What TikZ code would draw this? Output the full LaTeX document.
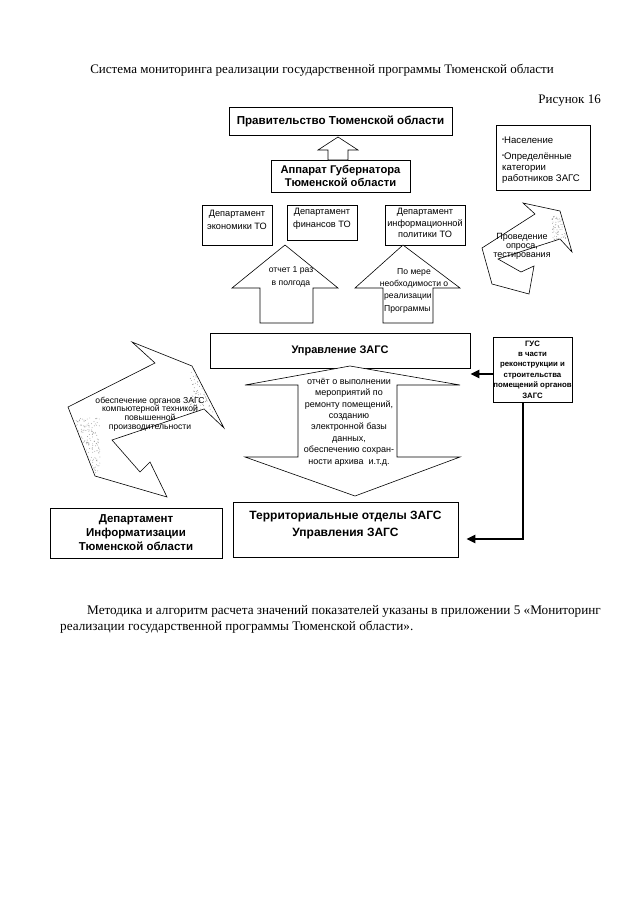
\documentclass[tikz,border=0pt]{standalone}
\usepackage{fontspec}
\setmainfont{Liberation Serif}
\newfontfamily\arial{Liberation Sans}
\usetikzlibrary{arrows.meta}
\newcommand\fz[2]{\fontsize{#1}{#2}\selectfont}
\begin{document}
\begin{tikzpicture}[x=1pt,y=-1pt,
  box/.style={draw, line width=0.8pt, inner sep=0pt},
  shp/.style={draw, line width=0.6pt, fill=white, line join=miter},
  bigarrow/.style={line width=2.2pt, -{Triangle[length=9pt,width=8pt]}},
  tb/.style={align=center, inner sep=0pt},
  serif/.style={inner sep=0pt},
  dotc/.style={fill=black!40}
]
\useasboundingbox (0,0) rectangle (640,905);
\fill[white] (0,0) rectangle (640,905);
\pgfmathsetseed{7}

% texts on the page
\node[serif, font=\fz{13}{16}] (title) at (322,70) {Система мониторинга реализации государственной программы Тюменской области};
\node[serif, font=\fz{13}{16}, anchor=east] (fig) at (601,101) {Рисунок 16};

% boxes
\node[box, minimum width=223pt, minimum height=28pt] (gov) at (340.5,121) {};
\node[tb, font=\arial\bfseries\fz{11.6}{14}] (govt) at (gov) {Правительство Тюменской области};
\node[box, minimum width=139pt, minimum height=32pt] (app) at (340.5,176) {};
\node[tb, font=\arial\bfseries\fz{11.2}{13.5}] (appt) at (app) {Аппарат Губернатора\\ Тюменской области};

\draw[shp] (338,137) -- (358,150) -- (348,150) -- (348,160) -- (328,160) -- (328,150) -- (318,150) -- cycle;

\node[box, minimum width=70pt, minimum height=40pt] (depA) at (237,225) {};
\node[tb, font=\arial\fz{9.2}{13}] (depAt) at (237,220) {Департамент\\экономики ТО};
\node[box, minimum width=70pt, minimum height=35pt] (depB) at (322,222.5) {};
\node[tb, font=\arial\fz{9.2}{13}] (depBt) at (322,219) {Департамент\\финансов ТО};
\node[box, minimum width=80pt, minimum height=40pt] (depC) at (425,225) {};
\node[tb, font=\arial\fz{9.2}{11.5}] (depCt) at (425,223) {Департамент\\информационной\\политики ТО};

% up arrows
\draw[shp] (285,245) -- (338,288) -- (313,288) -- (313,323) -- (260,323) -- (260,288) -- (232,288) -- cycle;
\node[tb, font=\arial\fz{8.6}{13}] (a1t) at (291,277) {отчет 1 раз\\в полгода};
\draw[shp] (403,245) -- (460,288) -- (433,288) -- (433,323) -- (383,323) -- (383,288) -- (355,288) -- cycle;
\node[tb, font=\arial\fz{8.6}{10}] (a2t1) at (414,272) {По мере};
\node[tb, font=\arial\fz{8.6}{10}] (a2t2) at (414,284) {необходимости о};
\node[tb, font=\arial\fz{8.6}{10}, anchor=west] (a2t3) at (384,297) {реализации};
\node[tb, font=\arial\fz{8.6}{10}, anchor=west] (a2t4) at (384,309) {Программы};

% population box
\node[box, minimum width=94pt, minimum height=65pt] (pop) at (543,157.5) {};
\node[tb, font=\arial\fz{9.6}{11}, anchor=north west, align=left] (popt) at (502,137) {\raisebox{2.5pt}{\scalebox{0.6}{•}}Население\\[5pt]\raisebox{2.5pt}{\scalebox{0.6}{•}}Определённые\\категории\\работников ЗАГС};

% right bent double arrow
\draw[shp] (482,248) -- (535,214) -- (523,203) -- (560,211) -- (572,252) -- (560,239) -- (498,259) -- (521,272) -- (534,266) -- (529,294) -- (492,284) -- cycle;
\begin{scope}
\clip (482,248) -- (535,214) -- (523,203) -- (560,211) -- (572,252) -- (560,239) -- (498,259) -- (521,272) -- (534,266) -- (529,294) -- (492,284) -- cycle;
\foreach \i in {1,...,70} {\fill[dotc] ({552+14*rnd},{216+24*rnd}) circle (0.45pt);}
\end{scope}
\node[tb, font=\arial\fz{9}{9}] (rt) at (522,246) {Проведение\\опроса,\\тестирования};

% Upravlenie ZAGS
\node[box, minimum width=260pt, minimum height=35pt] (zags) at (340,350.5) {};
\node[tb, font=\arial\bfseries\fz{11}{13}] (zagst) at (zags) {Управление ЗАГС};
\node[box, minimum width=79pt, minimum height=65pt] (gus) at (532.5,369.5) {};
\node[tb, font=\arial\bfseries\fz{7.8}{10.4}] (gust) at (gus) {ГУС\\в части\\реконструкции и\\строительства\\помещений органов\\ЗАГС};

% double vertical arrow
\draw[shp] (350,366) -- (460,385) -- (397,385) -- (397,457) -- (460,457) -- (355,496) -- (245,457) -- (298,457) -- (298,385) -- (245,385) -- cycle;
\node[tb, font=\arial\fz{9}{11.4}] (dat) at (349,422) {отчёт о выполнении\\мероприятий по\\ремонту помещений,\\созданию\\электронной базы\\данных,\\обеспечению сохран-\\ности архива\ \ и.т.д.};

% left bent double arrow
\draw[shp] (68,407) -- (155,363) -- (132,342) -- (192,366) -- (224,428) -- (204,409) -- (112,440) -- (140,472) -- (150,462) -- (167,497) -- (95,476) -- cycle;
\begin{scope}
\clip (68,407) -- (155,363) -- (132,342) -- (192,366) -- (224,428) -- (204,409) -- (112,440) -- (140,472) -- (150,462) -- (167,497) -- (95,476) -- cycle;
\foreach \i in {1,...,220} {\fill[dotc] ({72+28*rnd},{418+55*rnd}) circle (0.45pt);}
\foreach \i in {1,...,120} {\fill[dotc] ({190+24*rnd},{372+40*rnd}) circle (0.45pt);}
\end{scope}
\node[tb, font=\arial\fz{8.6}{8.8}] (lt) at (150,414) {обеспечение органов ЗАГС\\компьютерной техникой\\повышенной\\производительности};

% bottom boxes
\node[box, minimum width=172pt, minimum height=50pt] (inf) at (136,533) {};
\node[tb, font=\arial\bfseries\fz{11.5}{14}] (inft) at (inf) {Департамент\\Информатизации\\Тюменской области};
\node[box, minimum width=225pt, minimum height=55pt] (terr) at (345.5,529.5) {};
\node[tb, font=\arial\bfseries\fz{12}{16.5}] (terrt) at (345.5,525) {Территориальные отделы ЗАГС\\Управления ЗАГС};

% connectors
\draw[bigarrow] ([yshift=-4.5pt]gus.west) -- ([yshift=-4.5pt]gus.west -| zags.east);
\draw[bigarrow, shorten >=8pt] ([xshift=-9.5pt]gus.south) |- ([yshift=-9.5pt]terr.east);

% bottom paragraph
\node[serif, font=\fz{13.2}{16}, anchor=west] (p1) at (87,611) {Методика и алгоритм расчета значений показателей указаны в приложении 5 «Мониторинг};
\node[serif, font=\fz{13.2}{16}, anchor=west] (p2) at (60,627) {реализации государственной программы Тюменской области».};
\end{tikzpicture}
\end{document}
